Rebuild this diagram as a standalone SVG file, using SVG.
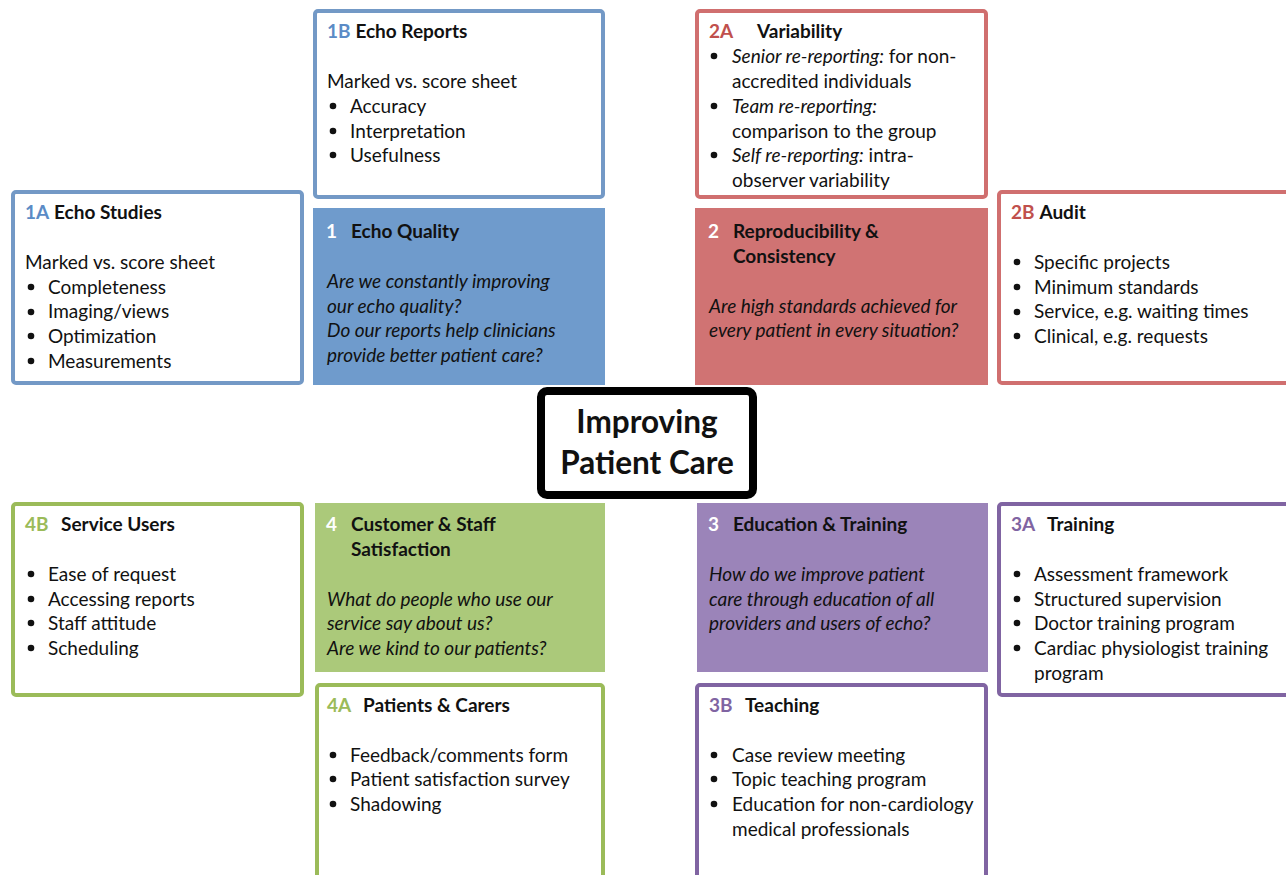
<svg xmlns="http://www.w3.org/2000/svg" width="1286" height="875" viewBox="0 0 1286 875">
<style>
text{font-family:Lato,"Open Sans","Liberation Sans",sans-serif;font-size:19px;fill:#111}
.h{font-weight:bold}
.i{font-style:italic}
.w{fill:#fff;font-weight:bold}
.cb{fill:#5b8bc6;font-weight:bold}
.cr{fill:#c0504d;font-weight:bold}
.cg{fill:#9bbb59;font-weight:bold}
.cp{fill:#8064a2;font-weight:bold}
.ob{fill:#fff;stroke:#7399c6;stroke-width:4}
.or{fill:#fff;stroke:#d06f6f;stroke-width:4}
.og{fill:#fff;stroke:#9bbb59;stroke-width:4}
.op{fill:#fff;stroke:#8064a2;stroke-width:4}
.dot{fill:#111}
.center{font-size:31.5px;font-weight:bold;text-anchor:middle}
</style>
<defs>
<circle id="b" r="3.3" class="dot"/>
</defs>
<rect width="1286" height="875" fill="#fff"/>

<g id="n1A">
<rect x="13" y="192" width="289" height="191" rx="3" class="ob"/>
<text x="25" y="219"><tspan class="cb">1A</tspan> <tspan class="h">Echo Studies</tspan></text>
<text x="25" y="269">Marked vs. score sheet</text>
<use href="#b" x="31" y="287"/><text x="48" y="294">Completeness</text>
<use href="#b" x="31" y="312"/><text x="48" y="318">Imaging/views</text>
<use href="#b" x="31" y="336"/><text x="48" y="343">Optimization</text>
<use href="#b" x="31" y="361"/><text x="48" y="368">Measurements</text>
</g>

<g id="n1B">
<rect x="315" y="11" width="288" height="186" rx="3" class="ob"/>
<text x="327" y="38"><tspan class="cb">1B</tspan> <tspan class="h">Echo Reports</tspan></text>
<text x="327" y="88">Marked vs. score sheet</text>
<use href="#b" x="333" y="106"/><text x="350" y="113">Accuracy</text>
<use href="#b" x="333" y="131"/><text x="350" y="138">Interpretation</text>
<use href="#b" x="333" y="155"/><text x="350" y="162">Usefulness</text>
</g>

<g id="n1">
<rect x="313" y="208" width="292" height="177" fill="#6f9bcc"/>
<text x="326" y="238" class="w">1</text>
<text x="351" y="238" class="h">Echo Quality</text>
<text x="327" y="288" class="i">Are we constantly improving</text>
<text x="327" y="313" class="i">our echo quality?</text>
<text x="327" y="337" class="i">Do our reports help clinicians</text>
<text x="327" y="362" class="i">provide better patient care?</text>
</g>

<g id="n2A">
<rect x="697" y="11" width="289" height="186" rx="3" class="or"/>
<text x="709" y="38" class="cr">2A</text>
<text x="757" y="38" class="h">Variability</text>
<use href="#b" x="714" y="56"/><text x="732" y="63"><tspan class="i">Senior re-reporting:</tspan> for non-</text>
<text x="732" y="88">accredited individuals</text>
<use href="#b" x="714" y="106"/><text x="732" y="113" class="i">Team re-reporting:</text>
<text x="732" y="138">comparison to the group</text>
<use href="#b" x="714" y="155"/><text x="732" y="162"><tspan class="i">Self re-reporting:</tspan> intra-</text>
<text x="732" y="187">observer variability</text>
</g>

<g id="n2">
<rect x="695" y="208" width="293" height="177" fill="#d07373"/>
<text x="708" y="238" class="w">2</text>
<text x="733" y="238" class="h">Reproducibility &amp;</text>
<text x="733" y="263" class="h">Consistency</text>
<text x="709" y="313" class="i">Are high standards achieved for</text>
<text x="709" y="337" class="i">every patient in every situation?</text>
</g>

<g id="n2B">
<rect x="999" y="192" width="290" height="191" rx="3" class="or"/>
<text x="1011" y="219"><tspan class="cr">2B</tspan> <tspan class="h">Audit</tspan></text>
<use href="#b" x="1017" y="262"/><text x="1034" y="269">Specific projects</text>
<use href="#b" x="1017" y="287"/><text x="1034" y="294">Minimum standards</text>
<use href="#b" x="1017" y="312"/><text x="1034" y="318">Service, e.g. waiting times</text>
<use href="#b" x="1017" y="336"/><text x="1034" y="343">Clinical, e.g. requests</text>
</g>

<g id="center">
<rect x="541" y="391" width="212" height="104" rx="6" fill="#fff" stroke="#000" stroke-width="8"/>
<text x="647" y="433" class="center">Improving</text>
<text x="647" y="474" class="center">Patient Care</text>
</g>

<g id="n4B">
<rect x="13" y="504" width="289" height="191" rx="3" class="og"/>
<text x="25" y="531" class="cg">4B</text>
<text x="61" y="531" class="h">Service Users</text>
<use href="#b" x="31" y="574"/><text x="48" y="581">Ease of request</text>
<use href="#b" x="31" y="599"/><text x="48" y="606">Accessing reports</text>
<use href="#b" x="31" y="623"/><text x="48" y="630">Staff attitude</text>
<use href="#b" x="31" y="648"/><text x="48" y="655">Scheduling</text>
</g>

<g id="n4">
<rect x="315" y="503" width="290" height="169" fill="#abc97a"/>
<text x="326" y="531" class="w">4</text>
<text x="351" y="531" class="h">Customer &amp; Staff</text>
<text x="351" y="556" class="h">Satisfaction</text>
<text x="327" y="606" class="i">What do people who use our</text>
<text x="327" y="630" class="i">service say about us?</text>
<text x="327" y="655" class="i">Are we kind to our patients?</text>
</g>

<g id="n4A">
<rect x="317" y="685" width="286" height="200" rx="3" class="og"/>
<text x="327" y="712" class="cg">4A</text>
<text x="363" y="712" class="h">Patients &amp; Carers</text>
<use href="#b" x="333" y="755"/><text x="350" y="762">Feedback/comments form</text>
<use href="#b" x="333" y="779"/><text x="350" y="786">Patient satisfaction survey</text>
<use href="#b" x="333" y="804"/><text x="350" y="811">Shadowing</text>
</g>

<g id="n3">
<rect x="697" y="503" width="291" height="169" fill="#9b84b9"/>
<text x="708" y="531" class="w">3</text>
<text x="733" y="531" class="h">Education &amp; Training</text>
<text x="709" y="581" class="i">How do we improve patient</text>
<text x="709" y="606" class="i">care through education of all</text>
<text x="709" y="630" class="i">providers and users of echo?</text>
</g>

<g id="n3A">
<rect x="999" y="504" width="290" height="191" rx="3" class="op"/>
<text x="1011" y="531" class="cp">3A</text>
<text x="1047" y="531" class="h">Training</text>
<use href="#b" x="1017" y="574"/><text x="1034" y="581">Assessment framework</text>
<use href="#b" x="1017" y="599"/><text x="1034" y="606">Structured supervision</text>
<use href="#b" x="1017" y="623"/><text x="1034" y="630">Doctor training program</text>
<use href="#b" x="1017" y="648"/><text x="1034" y="655">Cardiac physiologist training</text>
<text x="1034" y="680">program</text>
</g>

<g id="n3B">
<rect x="697" y="685" width="289" height="200" rx="3" class="op"/>
<text x="709" y="712" class="cp">3B</text>
<text x="745" y="712" class="h">Teaching</text>
<use href="#b" x="714" y="755"/><text x="732" y="762">Case review meeting</text>
<use href="#b" x="714" y="779"/><text x="732" y="786">Topic teaching program</text>
<use href="#b" x="714" y="804"/><text x="732" y="811">Education for non-cardiology</text>
<text x="732" y="836">medical professionals</text>
</g>

<g id="connectors"></g>
</svg>
